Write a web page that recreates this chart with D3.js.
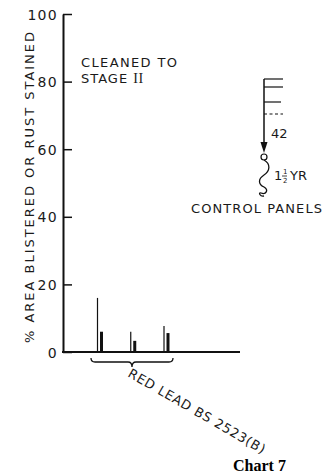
<!DOCTYPE html>
<html>
<head>
<meta charset="utf-8">
<script src="https://cdn.jsdelivr.net/npm/d3@7"></script>
<style>
  html, body { margin: 0; padding: 0; background: #fff; }
  svg { display: block; }
  .lbl { font-family: "DejaVu Sans", sans-serif; fill: #1a1a1a; }
</style>
</head>
<body>
<div id="chart"></div>
<script>
// panels on the red lead system
const panels = ['p1', 'p2', 'p3'];
const blisterTotal = [16, 6, 7.7];   // thin lines
const rustStained = [6, 3.3, 5.6];   // thick bars
const yTicks = [0, 20, 40, 60, 80, 100];

const W = 323, H = 475;
const svg = d3.select('#chart').append('svg')
  .attr('width', W).attr('height', H);

const y = d3.scaleLinear().domain([0, 100]).range([352, 14]);
const x = d3.scalePoint().domain(panels).range([97.5, 164]);

// y axis, ticks pointing inwards
const yAxis = d3.axisLeft(y)
  .tickValues(yTicks)
  .tickSizeInner(-9)
  .tickSizeOuter(0)
  .tickPadding(5);

const gy = svg.append('g')
  .attr('transform', 'translate(63,0)')
  .call(yAxis);
gy.select('.domain').attr('stroke', '#111').attr('stroke-width', 2);
gy.selectAll('.tick line').attr('stroke', '#111').attr('stroke-width', 1.5);
gy.selectAll('.tick text')
  .attr('class', 'lbl')
  .style('font-size', '14px')
  .style('letter-spacing', '1.3px')
  .attr('dy', '0.36em');

// x axis line
svg.append('line')
  .attr('x1', 62).attr('x2', 240)
  .attr('y1', y(0)).attr('y2', y(0))
  .attr('stroke', '#111').attr('stroke-width', 2);

// thin bars
svg.selectAll('.thin')
  .data(panels)
  .enter().append('line')
  .attr('class', 'thin')
  .attr('x1', d => x(d)).attr('x2', d => x(d))
  .attr('y1', y(0))
  .attr('y2', (d, i) => y(blisterTotal[i]))
  .attr('stroke', '#111').attr('stroke-width', 1.2);

// thick bars
svg.selectAll('.thick')
  .data(panels)
  .enter().append('rect')
  .attr('class', 'thick')
  .attr('x', d => x(d) + 2.5)
  .attr('width', 3)
  .attr('y', (d, i) => y(rustStained[i]))
  .attr('height', (d, i) => y(0) - y(rustStained[i]))
  .attr('fill', '#111');

// brace under the panels
const bx0 = x(panels[0]) - 6.5, bx1 = x(panels[panels.length - 1]) + 9, bm = (bx0 + bx1) / 2;
svg.append('path')
  .attr('d', `M${bx0},358 Q${bx0},362 ${bx0 + 4},362 L${bm - 4},362 Q${bm},362 ${bm},367 Q${bm},362 ${bm + 4},362 L${bx1 - 4},362 Q${bx1},362 ${bx1},358`)
  .attr('fill', 'none').attr('stroke', '#111').attr('stroke-width', 1.3);

svg.append('text')
  .attr('class', 'lbl')
  .attr('transform', 'translate(127,376) rotate(30)')
  .attr('textLength', 156)
  .attr('lengthAdjust', 'spacing')
  .style('font-size', '13px')
  .text('RED LEAD BS 2523(B)');

// y title
svg.append('text')
  .attr('class', 'lbl')
  .attr('transform', 'translate(34,343) rotate(-90)')
  .attr('textLength', 311)
  .attr('lengthAdjust', 'spacing')
  .style('font-size', '13px')
  .text('% AREA BLISTERED OR RUST STAINED');

// annotation
svg.append('text').attr('class', 'lbl')
  .attr('x', 81).attr('y', 67)
  .attr('textLength', 96).attr('lengthAdjust', 'spacing')
  .style('font-size', '13px').text('CLEANED TO');
const stage = svg.append('text').attr('class', 'lbl')
  .attr('x', 81).attr('y', 83)
  .style('font-size', '13px').style('letter-spacing', '1px');
stage.append('tspan').text('STAGE ');
stage.append('tspan')
  .style('font-family', '"Liberation Serif", serif')
  .style('font-size', '14px')
  .style('letter-spacing', '0.5px')
  .text('II');

// control panel key
const kx = 264;
const key = svg.append('g');
key.append('line').attr('x1', kx).attr('x2', kx).attr('y1', 79).attr('y2', 145)
  .attr('stroke', '#111').attr('stroke-width', 1.5);
[79, 87, 102].forEach((ky, i) => {
  key.append('line').attr('x1', kx).attr('x2', i < 2 ? 283 : 281).attr('y1', ky).attr('y2', ky)
    .attr('stroke', '#111').attr('stroke-width', 1.2);
});
key.append('line').attr('x1', kx).attr('x2', 283).attr('y1', 114).attr('y2', 114)
  .attr('stroke', '#111').attr('stroke-width', 1.2).attr('stroke-dasharray', '3,2.5');
key.append('path').attr('d', `M${kx - 3.5},142 L${kx + 3.5},142 L${kx},153 Z`).attr('fill', '#111');
key.append('circle').attr('cx', kx).attr('cy', 157).attr('r', 3)
  .attr('fill', 'none').attr('stroke', '#111').attr('stroke-width', 1.2);
key.append('path')
  .attr('d', 'M264,160 C271,164 270,171 264,175 C258,179 258,184 264,187 C269,190 266,195 261,193 C258,192 260,197 264,196')
  .attr('fill', 'none').attr('stroke', '#111').attr('stroke-width', 1.3);
key.append('text').attr('class', 'lbl')
  .attr('x', 271).attr('y', 138)
  .style('font-size', '13px').text('42');
key.append('text').attr('class', 'lbl').attr('x', 274).attr('y', 180)
  .style('font-size', '13px').text('1');
key.append('text').attr('class', 'lbl').attr('x', 283).attr('y', 174)
  .style('font-size', '7px').text('1');
key.append('line').attr('x1', 282).attr('x2', 287).attr('y1', 176).attr('y2', 176)
  .attr('stroke', '#111').attr('stroke-width', 0.8);
key.append('text').attr('class', 'lbl').attr('x', 283).attr('y', 183)
  .style('font-size', '7px').text('2');
key.append('text').attr('class', 'lbl').attr('x', 290).attr('y', 180)
  .style('font-size', '13px').text('YR');
key.append('text').attr('class', 'lbl')
  .attr('x', 191).attr('y', 213)
  .attr('textLength', 131).attr('lengthAdjust', 'spacing')
  .style('font-size', '13px').text('CONTROL PANELS');

svg.append('text')
  .attr('x', 233).attr('y', 471)
  .style('font-family', '"Liberation Serif", serif')
  .style('font-weight', 'bold')
  .style('font-size', '16px')
  .text('Chart 7');
</script>
</body>
</html>
